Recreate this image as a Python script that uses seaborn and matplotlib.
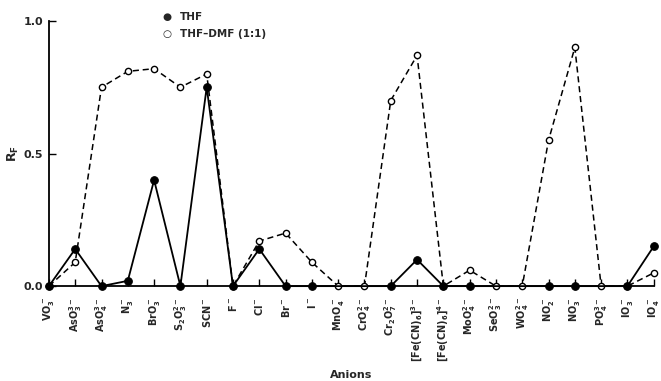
import numpy as np
import pandas as pd
import matplotlib
matplotlib.use("Agg")
import matplotlib.pyplot as plt
import seaborn as sns

anions = [r"$VO_3^-$", r"$AsO_3^{3-}$", r"$AsO_4^{3-}$", r"$N_3^-$",
          r"$BrO_3^-$", r"$S_2O_3^{2-}$", r"$SCN^-$", r"$F^-$",
          r"$Cl^-$", r"$Br^-$", r"$I^-$", r"$MnO_4^-$",
          r"$CrO_4^{2-}$", r"$Cr_2O_7^{2-}$", r"$[Fe(CN)_6]^{3-}$",
          r"$[Fe(CN)_6]^{4-}$", r"$MoO_4^{2-}$", r"$SeO_3^{2-}$",
          r"$WO_4^{2-}$", r"$NO_2^-$", r"$NO_3^-$", r"$PO_4^{3-}$",
          r"$IO_3^-$", r"$IO_4^-$"]

thf = [0.0, 0.14, 0.0, 0.02, 0.40, 0.0, 0.75, 0.0, 0.14, 0.0, 0.0, np.nan,
       np.nan, 0.0, 0.10, 0.0, 0.0, np.nan, np.nan, 0.0, 0.0, np.nan, 0.0, 0.15]
thf_dmf = [0.0, 0.09, 0.75, 0.81, 0.82, 0.75, 0.80, 0.0, 0.17, 0.20, 0.09, 0.0,
           0.0, 0.70, 0.87, 0.0, 0.06, 0.0, 0.0, 0.55, 0.90, 0.0, 0.0, 0.05]

pos = np.arange(len(anions))
df_thf = pd.DataFrame({"pos": pos, "rf": thf}).dropna()
df_dmf = pd.DataFrame({"pos": pos, "rf": thf_dmf})

sns.set_style("ticks")
plt.rcParams["font.family"] = ["DejaVu Sans"]
plt.rcParams["mathtext.default"] = "bf"

fig = plt.figure(figsize=(6.61, 3.81), dpi=100)
ax = fig.add_axes([0.074, 0.249, 0.915, 0.696])

sns.lineplot(data=df_dmf, x="pos", y="rf", ax=ax, color="black", linestyle=(0, (4, 2.5)),
             linewidth=1.1, marker="o", markersize=4.5, markerfacecolor="white",
             markeredgecolor="black", markeredgewidth=1.0, zorder=3, clip_on=False)
sns.lineplot(data=df_thf, x="pos", y="rf", ax=ax, color="black", linewidth=1.3,
             marker="o", markersize=5.5, markerfacecolor="black", markeredgecolor="black",
             zorder=4, clip_on=False)

ax.set_xlim(0, 23)
ax.set_ylim(0, 1.0)
ax.set_xticks(pos)
ax.set_xticklabels(anions, rotation=90, fontsize=7, fontweight="bold")
ax.set_yticks([0.0, 0.5, 1.0])
ax.set_yticklabels(["0.0", "0.5", "1.0"], fontsize=8, fontweight="bold")
ax.tick_params(axis="both", direction="in", length=5, width=1, color="black", pad=4)
ax.tick_params(axis="x", pad=8)
for s in ["top", "right"]:
    ax.spines[s].set_visible(False)
for s in ["left", "bottom"]:
    ax.spines[s].set_linewidth(1.3)
    ax.spines[s].set_color("black")

ax.set_xlabel("Anions", fontsize=8, fontweight="bold", labelpad=6)
ax.set_ylabel(r"$R_F$", fontsize=9, labelpad=2)

# legend
fig.text(0.253, 0.955, "\u25CF", fontsize=7.5, ha="center", va="center")
fig.text(0.272, 0.955, "THF", fontsize=7.5, fontweight="bold", ha="left", va="center")
fig.text(0.253, 0.91, "\u25CB", fontsize=7.5, ha="center", va="center")
fig.text(0.272, 0.91, "THF\u2013DMF (1:1)", fontsize=7.5, fontweight="bold", ha="left", va="center")

fig.savefig("out.png", dpi=100)
